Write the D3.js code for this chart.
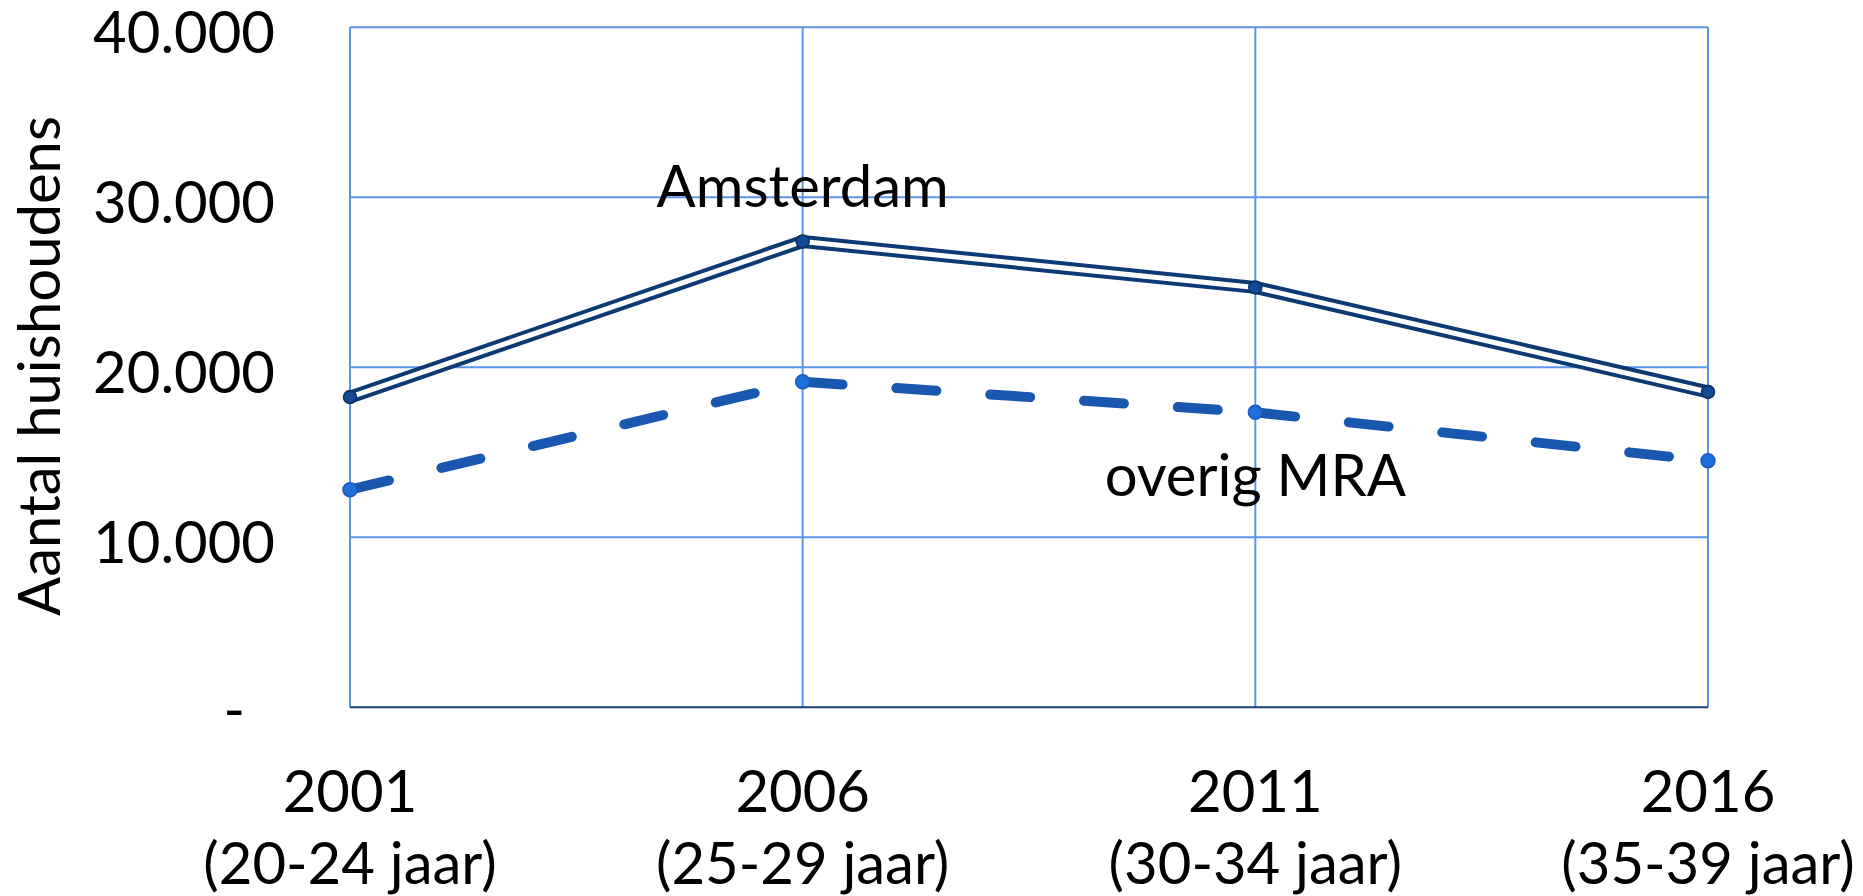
<!DOCTYPE html>
<html>
<head>
<meta charset="utf-8">
<script src="https://cdn.jsdelivr.net/npm/d3@7"></script>
<style>
  html, body { margin: 0; padding: 0; background: #fff; }
  svg { display: block; }
  text { font-family: Lato, "Open Sans", sans-serif; fill: #000; }
</style>
</head>
<body>
<svg id="chart" width="1863" height="896"></svg>
<script>
// ---- data ----
const years = ["2001", "2006", "2011", "2016"];
const ageGroups = ["(20-24 jaar)", "(25-29 jaar)", "(30-34 jaar)", "(35-39 jaar)"];
const amsterdam = [18250, 27400, 24700, 18550];
const overigMRA = [12800, 19150, 17350, 14500];
const yTicks = [0, 10000, 20000, 30000, 40000];
const seriesNames = ["Amsterdam", "overig MRA"];
const yTitle = "Aantal huishoudens";

// ---- layout ----
const plotLeft = 350, plotRight = 1708, plotTop = 27.3, plotBottom = 707.3;
const fontSize = 58;

const svg = d3.select("#chart");

const x = d3.scalePoint().domain(years).range([plotLeft, plotRight]);
const y = d3.scaleLinear().domain([0, 40000]).range([plotBottom, plotTop]);

const gridColor = "#5b95ea";

// horizontal gridlines
svg.append("g").selectAll("line").data(yTicks.filter(d => d > 0)).join("line")
  .attr("x1", plotLeft).attr("x2", plotRight)
  .attr("y1", d => y(d)).attr("y2", d => y(d))
  .attr("stroke", gridColor).attr("stroke-width", 2);

// vertical gridlines
svg.append("g").selectAll("line").data(years).join("line")
  .attr("x1", d => x(d)).attr("x2", d => x(d))
  .attr("y1", plotTop).attr("y2", plotBottom)
  .attr("stroke", gridColor).attr("stroke-width", 2);

// bottom axis line
svg.append("line")
  .attr("x1", plotLeft).attr("x2", plotRight)
  .attr("y1", y(0)).attr("y2", y(0))
  .attr("stroke", "#1d3f78").attr("stroke-width", 2);

// y axis labels
const fmt = v => v === 0 ? "-" : d3.format(",")(v).replace(/,/g, ".");
const yAxis = d3.axisLeft(y).tickValues(yTicks).tickFormat(fmt).tickSize(0).tickPadding(75);
const gy = svg.append("g").attr("transform", `translate(${plotLeft},0)`).call(yAxis);
gy.select(".domain").remove();
gy.selectAll("text")
  .attr("dy", null)
  .attr("y", 25)
  .style("font-family", "Lato, 'Open Sans', sans-serif")
  .style("font-size", fontSize + "px")
  .attr("fill", "#000");
gy.selectAll(".tick").filter(d => d === 0).select("text")
  .attr("x", -105).attr("y", 22);

// x axis labels (two lines)
const gx = svg.append("g");
years.forEach((yr, i) => {
  const t = gx.append("text")
    .attr("x", x(yr)).attr("text-anchor", "middle")
    .style("font-size", fontSize + "px");
  t.append("tspan").attr("x", x(yr)).attr("y", 812).text(yr);
  t.append("tspan").attr("x", x(yr)).attr("y", 884).text(ageGroups[i]);
});

// y title
svg.append("text")
  .attr("transform", `translate(60, 366) rotate(-90)`)
  .attr("text-anchor", "middle")
  .style("font-size", fontSize + "px")
  .text(yTitle);

// ---- series ----
const line = d3.line().x((d, i) => x(years[i])).y(d => y(d));

// Amsterdam: double line
svg.append("path").datum(amsterdam).attr("d", line)
  .attr("fill", "none").attr("stroke", "#0b3a74").attr("stroke-width", 13)
  .attr("stroke-linejoin", "round");
svg.append("path").datum(amsterdam).attr("d", line)
  .attr("fill", "none").attr("stroke", "#fff").attr("stroke-width", 5)
  .attr("stroke-linejoin", "round");

// overig MRA: dashed, pattern restarts per segment
const segs = d3.pairs(overigMRA.map((v, i) => [years[i], v]));
svg.append("g").selectAll("path").data(segs).join("path")
  .attr("d", d => d3.line().x(p => x(p[0])).y(p => y(p[1]))(d))
  .attr("fill", "none").attr("stroke", "#1957b0").attr("stroke-width", 10)
  .attr("stroke-linecap", "round").attr("stroke-dasharray", "40,54");

// markers
svg.append("g").selectAll("circle").data(amsterdam).join("circle")
  .attr("cx", (d, i) => x(years[i])).attr("cy", d => y(d)).attr("r", 6.5)
  .attr("fill", "#114a96").attr("stroke", "#0a2f5e").attr("stroke-width", 1.5);
svg.append("g").selectAll("circle").data(overigMRA).join("circle")
  .attr("cx", (d, i) => x(years[i])).attr("cy", d => y(d)).attr("r", 7)
  .attr("fill", "#1f6fd8").attr("stroke", "#1a5cbf").attr("stroke-width", 1.5);

// data labels
svg.append("text")
  .attr("x", x(years[1])).attr("y", y(amsterdam[1]) - 35)
  .attr("text-anchor", "middle").style("font-size", fontSize + "px")
  .text(seriesNames[0]);
svg.append("text")
  .attr("x", x(years[2])).attr("y", y(overigMRA[2]) + 84)
  .attr("text-anchor", "middle").style("font-size", fontSize + "px")
  .text(seriesNames[1]);
</script>
</body>
</html>
